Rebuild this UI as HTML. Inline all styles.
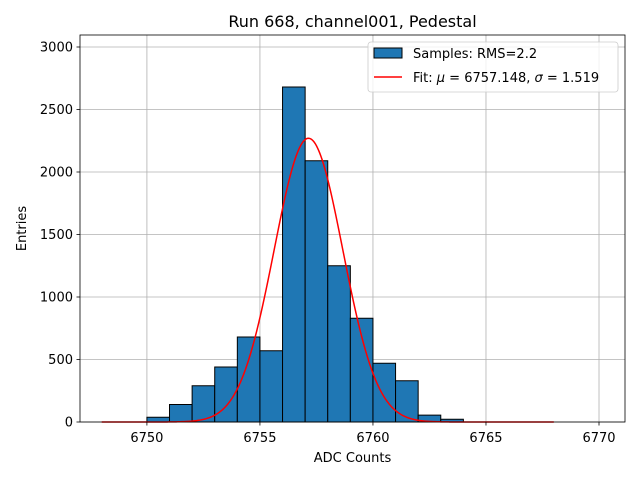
<!DOCTYPE html>
<html><head><meta charset="utf-8"><style>
body{margin:0;background:#fff;font-family:"Liberation Sans","DejaVu Sans",sans-serif}
svg text{font-family:"DejaVu Sans","Liberation Sans",sans-serif}
</style></head><body>
<svg id="chart" width="640" height="480" xmlns="http://www.w3.org/2000/svg"></svg>
<script>
const binStarts=[6750,6751,6752,6753,6754,6755,6756,6757,6758,6759,6760,6761,6762,6763];
const binCounts=[38,140,290,440,680,570,2680,2090,1250,830,470,330,55,22];
const xTicks=[6750,6755,6760,6765,6770];
const yTicks=[0,500,1000,1500,2000,2500,3000];
const fitAmp=[2270];
const fitMu=[6757.148];
const fitSigma=[1.519];
const fitRange=[6748,6768];
const X0=80,X1=625,Y0=35,Y1=422;
const xMin=6747.04,xMax=6771.15,yMin=0,yMax=3096;
const sx=v=>X0+(v-xMin)/(xMax-xMin)*(X1-X0);
const sy=v=>Y1-(v-yMin)/(yMax-yMin)*(Y1-Y0);
const svg=document.getElementById('chart');
const NS='http://www.w3.org/2000/svg';
function mk(t,a,txt){const e=document.createElementNS(NS,t);for(const k in a)e.setAttribute(k,a[k]);if(txt!=null)e.textContent=txt;svg.appendChild(e);return e;}
let e;
e=mk('rect',{x:X0,y:Y0,width:X1-X0,height:Y1-Y0,fill:'#fff'});


xTicks.forEach(t=>{
 e=mk('line',{x1:sx(t),x2:sx(t),y1:Y0,y2:Y1,stroke:'#b0b0b0','stroke-width':0.8});
 
 
});
yTicks.forEach(t=>{
 e=mk('line',{x1:X0,x2:X1,y1:sy(t),y2:sy(t),stroke:'#b0b0b0','stroke-width':0.8});
 
 
});
binStarts.forEach((b,i)=>{
 const x=sx(b),w=sx(b+1)-x,y=sy(binCounts[i]);
 e=mk('rect',{x:x,y:y,width:w,height:Y1-y,fill:'#1f77b4',stroke:'#000','stroke-width':1});
 
 
});
let d='';
for(let i=0;i<=400;i++){const v=fitRange[0]+(fitRange[1]-fitRange[0])*i/400;
 const f=fitAmp[0]*Math.exp(-0.5*Math.pow((v-fitMu[0])/fitSigma[0],2));
 d+=(i?'L':'M')+sx(v).toFixed(2)+','+sy(f).toFixed(2);}
e=mk('path',{d:d,fill:'none',stroke:'#ff0000','stroke-width':1.5});


e=mk('rect',{x:X0,y:Y0,width:X1-X0,height:Y1-Y0,fill:'none',stroke:'#000','stroke-width':0.8});


xTicks.forEach(t=>{
 e=mk('line',{x1:sx(t),x2:sx(t),y1:Y1,y2:Y1+3.5,stroke:'#000','stroke-width':0.8});
 
 
 e=mk('text',{x:sx(t),y:Y1+20,'text-anchor':'middle','font-size':13},t);
 
 
});
yTicks.forEach(t=>{
 e=mk('line',{x1:X0-3.5,x2:X0,y1:sy(t),y2:sy(t),stroke:'#000','stroke-width':0.8});
 
 
 e=mk('text',{x:X0-7,y:sy(t)+4.5,'text-anchor':'end','font-size':13},t);
 
 
});
e=mk('text',{x:(X0+X1)/2,y:462,'text-anchor':'middle','font-size':13},'ADC Counts');


e=mk('text',{x:26,y:(Y0+Y1)/2,'text-anchor':'middle','font-size':13,transform:'rotate(-90 26 '+(Y0+Y1)/2+')'},'Entries');


e=mk('text',{x:(X0+X1)/2,y:27,'text-anchor':'middle','font-size':16},'Run 668, channel001, Pedestal');


e=mk('rect',{x:368,y:42,width:250,height:50,rx:3,fill:'#fff','fill-opacity':0.8,stroke:'#ccc','stroke-width':0.8});


e=mk('rect',{x:374,y:48,width:28,height:10,fill:'#1f77b4',stroke:'#000','stroke-width':1});


e=mk('text',{x:413,y:58,'font-size':13},'Samples: RMS=2.2');


e=mk('line',{x1:374,x2:402,y1:77,y2:77,stroke:'#ff0000','stroke-width':1.5});


e=mk('text',{x:413,y:82,'font-size':13},'Fit: ');


e.innerHTML='Fit: <tspan font-style="italic">μ</tspan> = 6757.148, <tspan font-style="italic">σ</tspan> = 1.519';
</script>
</body></html>
